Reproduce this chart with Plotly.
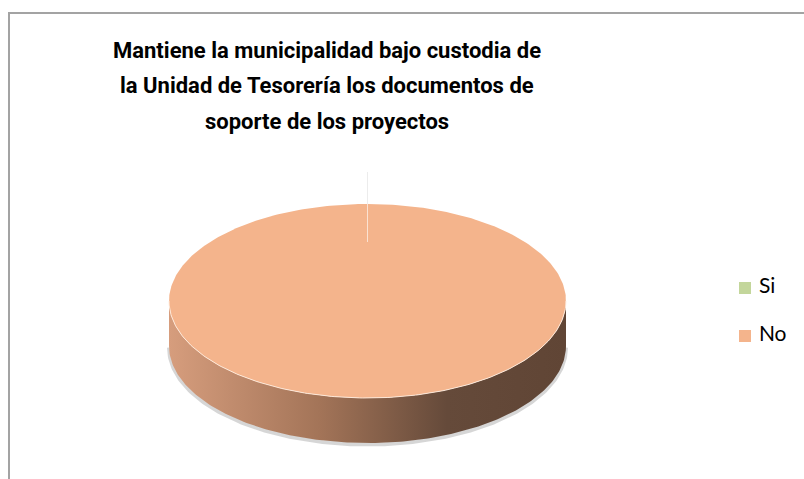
import numpy as np
import plotly.graph_objects as go

# Data
categories = ["Si", "No"]
values = [0, 100]
slice_colors = ["#c3d69b", "#f4b48c"]
title_lines = [
    "Mantiene la municipalidad bajo custodia de",
    "la Unidad de Tesorería los documentos de",
    "soporte de los proyectos",
]

W, H = 804, 479

# Geometry of the tilted pie (pixel units on hidden axes)
cx, cy = 367.5, 301.0
rx, ry = 198.5, 97.0
depth = 45.0


def ellipse(theta, dz=0.0):
    """Point on the pie rim; theta runs clockwise from 12 o'clock."""
    return cx + rx * np.sin(theta), cy - ry * np.cos(theta) + dz


fig = go.Figure()

total = float(sum(values))
bounds = np.concatenate([[0.0], np.cumsum(values) / total * 2 * np.pi])

# Soft shadow under the front wall
th = np.linspace(np.pi / 2, 3 * np.pi / 2, 200)
sx, sy = ellipse(th, depth + 1.5)
fig.add_trace(go.Scatter(x=sx, y=sy, mode="lines",
                         line=dict(color="rgba(0,0,0,0.16)", width=4),
                         hoverinfo="skip", showlegend=False))

# Front wall of each slice (only the part facing the viewer)
for i, (a0, a1) in enumerate(zip(bounds[:-1], bounds[1:])):
    lo, hi = max(a0, np.pi / 2), min(a1, 3 * np.pi / 2)
    if hi <= lo:
        continue
    t = np.linspace(lo, hi, 200)
    tx, ty = ellipse(t)
    bx, by = ellipse(t[::-1], depth)
    fig.add_trace(go.Scatter(
        x=np.concatenate([tx, bx, tx[:1]]),
        y=np.concatenate([ty, by, ty[:1]]),
        mode="lines", fill="toself", line=dict(width=0),
        fillgradient=dict(type="horizontal",
                          colorscale=[[0.0, "#d69d7d"],
                                      [0.38, "#a37458"],
                                      [0.7, "#654a3a"],
                                      [1.0, "#604535"]]),
        hoverinfo="skip", showlegend=False))

# Top faces
for i, (a0, a1) in enumerate(zip(bounds[:-1], bounds[1:])):
    if a1 - a0 <= 0:
        continue
    t = np.linspace(a0, a1, 400)
    px, py = ellipse(t)
    if a1 - a0 < 2 * np.pi - 1e-9:
        px = np.concatenate([[cx], px, [cx]])
        py = np.concatenate([[cy], py, [cy]])
    fig.add_trace(go.Scatter(x=px, y=py, mode="lines", fill="toself",
                             fillcolor=slice_colors[i], line=dict(width=0),
                             name=categories[i], hoverinfo="skip",
                             showlegend=False))

# Light rim along the front edge of the top face
t = np.linspace(np.pi / 2, 3 * np.pi / 2, 200)
rx_, ry_ = ellipse(t)
fig.add_trace(go.Scatter(x=rx_, y=ry_, mode="lines",
                         line=dict(color="rgba(255,236,222,0.9)", width=1),
                         hoverinfo="skip", showlegend=False))

# Seam of the empty slice at its boundary angle
for i, v in enumerate(values):
    if v == 0:
        bx0, by0 = ellipse(bounds[i])
        fig.add_trace(go.Scatter(x=[bx0, bx0], y=[by0 - 32, by0], mode="lines",
                                 line=dict(color="#ececec", width=1),
                                 hoverinfo="skip", showlegend=False))
        fig.add_trace(go.Scatter(x=[bx0, bx0], y=[by0, by0 + 38], mode="lines",
                                 line=dict(color="#fbe2d2", width=1),
                                 hoverinfo="skip", showlegend=False))

# Legend: square swatches with category names
leg_x, leg_y0, leg_dy = 745, 288, 48
fig.add_trace(go.Scatter(
    x=[leg_x] * len(categories),
    y=[leg_y0 + k * leg_dy for k in range(len(categories))],
    mode="markers+text",
    marker=dict(symbol="square", size=12, color=slice_colors),
    text=[" " + c for c in categories], textposition="middle right",
    textfont=dict(family="Lato, Carlito, sans-serif", size=21, color="#000000"),
    hoverinfo="skip", showlegend=False))

# Title
for k, line in enumerate(title_lines):
    fig.add_annotation(x=327, y=50 + k * 35.5, xref="x", yref="y",
                       text=f"<b>{line}</b>", showarrow=False,
                       font=dict(family="Roboto, Liberation Sans, sans-serif",
                                 size=22, color="#000000"),
                       xanchor="center", yanchor="middle")

# Chart frame
fig.add_shape(type="rect", x0=9, y0=13, x1=W + 20, y1=H + 20,
              xref="x", yref="y", line=dict(color="#a3a3a3", width=2),
              fillcolor="rgba(0,0,0,0)", layer="above")

fig.update_layout(
    width=W, height=H, autosize=False,
    margin=dict(l=0, r=0, t=0, b=0),
    paper_bgcolor="white", plot_bgcolor="white",
    xaxis=dict(range=[0, W], visible=False, fixedrange=True),
    yaxis=dict(range=[H, 0], visible=False, fixedrange=True),
    showlegend=False,
)

fig.write_html("out.html")
